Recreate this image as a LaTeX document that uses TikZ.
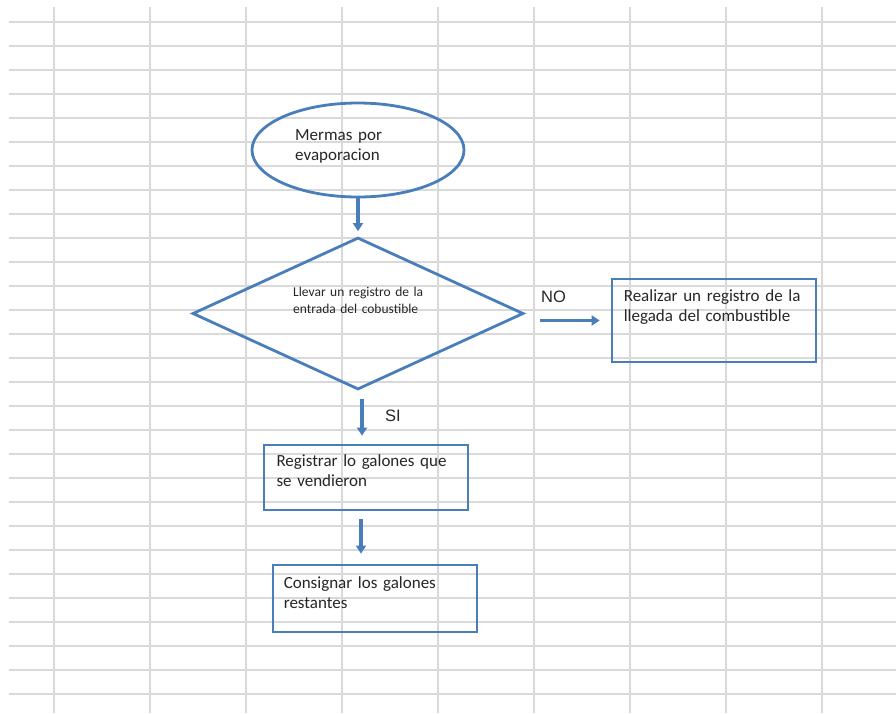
\documentclass[tikz,border=0pt]{standalone}
\usepackage{fontspec}
\setmainfont{Carlito}
\newfontfamily\labelfont{Liberation Sans}
\usetikzlibrary{arrows.meta,positioning,shapes.geometric}
\definecolor{shapeblue}{HTML}{4A7EBB}
\definecolor{cellgray}{HTML}{D9D9D9}
\begin{document}
\begin{tikzpicture}[x=1pt,y=-1pt,>={Triangle[width=10pt,length=8pt]},
  every node/.style={font=\fontsize{17}{20}\selectfont},
  cell/.style={cellgray,line width=1.8pt},
  term/.style={ellipse,draw=shapeblue,line width=2.8pt,minimum width=212,minimum height=94,inner sep=0},
  decision/.style={diamond,draw=shapeblue,line width=2.8pt,minimum width=331,minimum height=152,inner sep=0},
  procbox/.style={rectangle,draw=shapeblue,line width=2.8pt,minimum width=204,inner sep=0},
  txt/.style={anchor=base west,inner sep=0,align=left,text width=190,text=black!85},
  answer/.style={anchor=base west,inner sep=0,text=black!85,font=\labelfont\fontsize{16.5}{20}\selectfont},
  arr/.style={->,shapeblue,line width=3.2pt}]
\useasboundingbox (0,0) rectangle (896,713);
\fill[white] (0,0) rectangle (896,713);
\foreach \gx in {54,150,...,822} \draw[cell] (\gx,7) -- (\gx,713);
\foreach \k in {0,...,28} \draw[cell] (9,{21.7+24*\k}) -- (896,{21.7+24*\k});
\node[term] (start) at (358,150) {};
\node[decision] (check) at (358,313.5) {};
\node[procbox,minimum height=83] (reg) at (714,320.5) {};
\node[procbox,minimum height=65] (sold) at (366,477.5) {};
\node[procbox,minimum height=67] (rest) at (375,598.5) {};
\node[txt] (starttxt) at ([shift={(-63,-9.3)}]start.center) {Mermas por\\evaporacion};
\node[txt,font=\fontsize{13.5}{17}\selectfont] (checktxt) at ([shift={(-65,-16.8)}]check.center) {Llevar un registro de la\\entrada del cobustible};
\node[txt] (regtxt) at ([shift={(13,24.3)}]reg.north west) {Realizar un registro de la\\llegada del combustible};
\node[txt] (soldtxt) at ([shift={(13.7,22.7)}]sold.north west) {Registrar lo galones que\\se vendieron};
\node[txt] (resttxt) at ([shift={(12,25)}]rest.north west) {Consignar los galones\\restantes};
\node[answer] (no) at ([shift={(16,-11.5)}]check.east) {NO};
\node[answer] (si) at ([shift={(27,31)}]check.south) {SI};
\draw[arr,shorten >=5pt] (start) -- (check);
\draw[arr,shorten <=15pt,shorten >=11pt] (check.east |- reg.west) -- (reg.west);
\draw[arr,shorten <=8pt,shorten >=8pt] ([xshift=4]check.south) -- ([xshift=4]check.south |- sold.north);
\draw[arr,shorten <=8pt,shorten >=10pt] ([xshift=-5]sold.south) -- ([xshift=-5]sold.south |- rest.north);
\end{tikzpicture}
\end{document}
